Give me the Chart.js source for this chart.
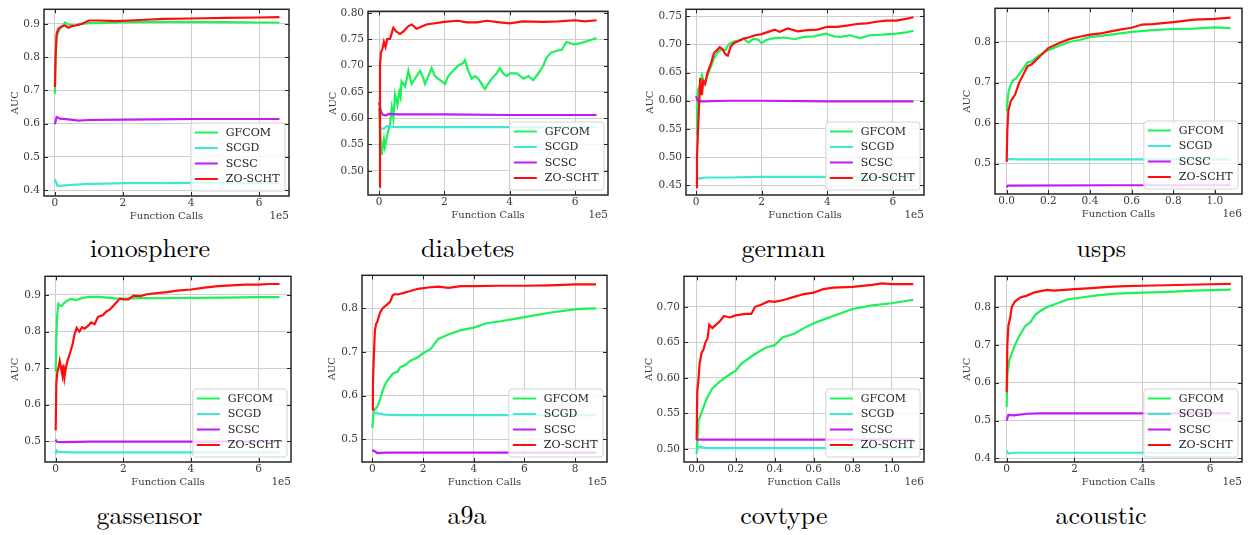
<!DOCTYPE html>
<html><head><meta charset="utf-8">
<script src="https://cdn.jsdelivr.net/npm/chart.js@4.4.1/dist/chart.umd.min.js"></script>
<style>
html,body{margin:0;padding:0;background:#fff;}
body{width:1251px;height:535px;position:relative;overflow:hidden;}
canvas{position:absolute;}
.cap{position:absolute;font-family:'Latin Modern Roman','Liberation Serif',serif;font-size:26px;line-height:30px;color:#000;white-space:nowrap;}
.cap .bl{display:inline-block;width:0;height:0;}
</style></head><body>
<script>
// ---------- series meta ----------
const seriesNames = ['GFCOM', 'SCGD', 'SCSC', 'ZO-SCHT'];
const seriesColors = ['#1ef25a', '#3ee8d2', '#c21cf5', '#ff0d0d'];

// ---------- data: [function calls (in axis units), AUC] ----------
// ionosphere (x in 1e5)
const ionosphereGFCOM = [[0,0.69],[0.02,0.80],[0.05,0.86],[0.1,0.875],[0.15,0.885],[0.25,0.897],[0.3,0.904],[0.4,0.898],[0.6,0.895],[0.8,0.9],[1.0,0.902],[1.5,0.903],[2,0.905],[3,0.906],[4,0.906],[5,0.905],[6,0.904],[6.6,0.904]];
const ionosphereSCGD = [[0,0.433],[0.05,0.42],[0.08,0.413],[0.2,0.414],[0.5,0.416],[1.0,0.419],[1.5,0.42],[2,0.421],[3,0.421],[4,0.422],[6.6,0.422]];
const ionosphereSCSC = [[0,0.598],[0.05,0.62],[0.15,0.615],[0.4,0.613],[0.7,0.609],[1.0,0.611],[2,0.612],[3,0.613],[4,0.614],[5,0.614],[6.6,0.614]];
const ionosphereZOSCHT = [[0,0.71],[0.02,0.80],[0.05,0.87],[0.1,0.885],[0.2,0.892],[0.3,0.895],[0.4,0.888],[0.5,0.893],[0.6,0.895],[0.8,0.9],[1.0,0.91],[1.3,0.91],[1.8,0.908],[2.2,0.91],[2.8,0.913],[3.2,0.915],[4,0.916],[5,0.918],[6,0.919],[6.6,0.92]];

// diabetes (x in 1e5)
const diabetesGFCOM = [[0,0.62],[0.08,0.53],[0.15,0.56],[0.18,0.545],[0.26,0.57],[0.34,0.59],[0.39,0.62],[0.44,0.6],[0.49,0.645],[0.56,0.625],[0.62,0.65],[0.66,0.64],[0.69,0.67],[0.8,0.66],[0.9,0.69],[1.0,0.665],[1.1,0.675],[1.26,0.69],[1.36,0.675],[1.41,0.665],[1.51,0.68],[1.61,0.695],[1.71,0.68],[1.81,0.675],[1.92,0.67],[2.02,0.665],[2.12,0.68],[2.27,0.69],[2.43,0.70],[2.58,0.705],[2.63,0.71],[2.73,0.69],[2.84,0.675],[2.94,0.68],[3.04,0.675],[3.14,0.665],[3.24,0.655],[3.34,0.665],[3.45,0.675],[3.6,0.685],[3.7,0.695],[3.8,0.685],[3.91,0.68],[4.01,0.685],[4.22,0.685],[4.42,0.675],[4.57,0.68],[4.72,0.672],[4.88,0.685],[5.03,0.70],[5.13,0.715],[5.28,0.725],[5.44,0.728],[5.59,0.73],[5.74,0.745],[5.95,0.74],[6.15,0.742],[6.46,0.748],[6.66,0.752]];
const diabetesSCGD = [[0,0.585],[0.05,0.58],[0.15,0.58],[0.25,0.585],[0.5,0.583],[1,0.583],[3,0.583],[6.66,0.583]];
const diabetesSCSC = [[0,0.63],[0.05,0.615],[0.1,0.607],[0.2,0.605],[0.3,0.608],[0.6,0.607],[1,0.607],[2,0.607],[4,0.606],[6.66,0.606]];
const diabetesZOSCHT = [[0,0.47],[0.03,0.70],[0.06,0.725],[0.1,0.73],[0.15,0.745],[0.2,0.735],[0.25,0.75],[0.34,0.751],[0.44,0.772],[0.52,0.765],[0.64,0.76],[0.75,0.765],[0.9,0.775],[1.0,0.778],[1.15,0.77],[1.45,0.778],[2.0,0.783],[2.4,0.785],[2.7,0.782],[3.0,0.782],[3.3,0.785],[3.7,0.782],[4.0,0.78],[4.4,0.784],[5.0,0.783],[5.5,0.784],[6.0,0.786],[6.3,0.784],[6.66,0.786]];

// german (x in 1e5)
const germanGFCOM = [[0,0.54],[0.03,0.58],[0.06,0.62],[0.1,0.625],[0.18,0.645],[0.25,0.63],[0.35,0.645],[0.45,0.66],[0.55,0.675],[0.65,0.685],[0.75,0.69],[0.9,0.69],[1.0,0.70],[1.15,0.705],[1.3,0.707],[1.45,0.71],[1.6,0.703],[1.75,0.71],[1.9,0.708],[2.0,0.702],[2.15,0.708],[2.4,0.711],[2.7,0.712],[3.0,0.709],[3.3,0.713],[3.6,0.714],[3.95,0.719],[4.2,0.714],[4.4,0.713],[4.7,0.716],[5.0,0.711],[5.3,0.716],[5.7,0.717],[6.1,0.719],[6.4,0.721],[6.63,0.724]];
const germanSCGD = [[0,0.466],[0.1,0.462],[0.3,0.464],[1,0.464],[2,0.465],[4,0.465],[6.63,0.465]];
const germanSCSC = [[0,0.608],[0.05,0.60],[0.2,0.599],[1,0.6],[2,0.6],[4,0.599],[6.63,0.599]];
const germanZOSCHT = [[0,0.447],[0.03,0.50],[0.06,0.545],[0.1,0.60],[0.13,0.64],[0.18,0.61],[0.22,0.635],[0.28,0.63],[0.35,0.65],[0.45,0.665],[0.55,0.685],[0.65,0.69],[0.72,0.695],[0.8,0.692],[0.9,0.682],[0.97,0.68],[1.05,0.695],[1.15,0.702],[1.3,0.706],[1.45,0.71],[1.6,0.712],[1.8,0.716],[2.0,0.718],[2.2,0.722],[2.4,0.726],[2.55,0.722],[2.8,0.728],[3.1,0.723],[3.4,0.725],[3.7,0.726],[4.0,0.731],[4.3,0.731],[4.6,0.733],[4.9,0.736],[5.2,0.737],[5.5,0.740],[5.8,0.742],[6.1,0.742],[6.4,0.745],[6.63,0.748]];

// usps (x in 1e6)
const uspsGFCOM = [[0,0.63],[0.005,0.66],[0.01,0.68],[0.02,0.695],[0.03,0.705],[0.045,0.71],[0.06,0.72],[0.08,0.735],[0.1,0.75],[0.12,0.752],[0.15,0.765],[0.2,0.78],[0.25,0.79],[0.3,0.80],[0.35,0.805],[0.4,0.812],[0.5,0.818],[0.6,0.825],[0.7,0.829],[0.8,0.832],[0.9,0.833],[1.0,0.836],[1.075,0.834]];
const uspsSCGD = [[0,0.505],[0.005,0.512],[0.05,0.511],[1.075,0.511]];
const uspsSCSC = [[0,0.442],[0.005,0.446],[0.5,0.447],[1.075,0.447]];
const uspsZOSCHT = [[0,0.505],[0.003,0.58],[0.008,0.63],[0.02,0.655],[0.04,0.67],[0.06,0.70],[0.08,0.72],[0.1,0.74],[0.12,0.745],[0.15,0.76],[0.2,0.785],[0.25,0.797],[0.3,0.807],[0.35,0.813],[0.4,0.818],[0.45,0.821],[0.5,0.826],[0.55,0.831],[0.6,0.835],[0.65,0.843],[0.7,0.844],[0.8,0.849],[0.9,0.855],[1.0,0.857],[1.075,0.86]];

// gassensor (x in 1e5)
const gassensorGFCOM = [[0,0.69],[0.02,0.78],[0.04,0.84],[0.08,0.876],[0.12,0.872],[0.18,0.87],[0.25,0.878],[0.35,0.885],[0.45,0.889],[0.6,0.886],[0.8,0.892],[1.0,0.895],[1.3,0.895],[1.6,0.892],[1.8,0.89],[2.1,0.89],[2.5,0.892],[3.0,0.891],[4.0,0.892],[5.0,0.893],[6.0,0.894],[6.62,0.894]];
const gassensorSCGD = [[0,0.465],[0.03,0.475],[0.08,0.471],[0.5,0.47],[6.62,0.47]];
const gassensorSCSC = [[0,0.505],[0.03,0.499],[0.2,0.498],[1,0.499],[6.62,0.499]];
const gassensorZOSCHT = [[0,0.53],[0.02,0.66],[0.05,0.69],[0.08,0.70],[0.12,0.72],[0.16,0.70],[0.2,0.68],[0.23,0.71],[0.26,0.675],[0.3,0.70],[0.35,0.72],[0.42,0.74],[0.5,0.765],[0.55,0.79],[0.62,0.81],[0.7,0.80],[0.78,0.812],[0.85,0.808],[0.95,0.815],[1.05,0.825],[1.15,0.82],[1.25,0.84],[1.4,0.845],[1.5,0.855],[1.6,0.86],[1.7,0.87],[1.8,0.88],[1.9,0.89],[2.0,0.888],[2.15,0.888],[2.3,0.898],[2.5,0.897],[2.7,0.902],[3.0,0.905],[3.3,0.908],[3.6,0.912],[4.0,0.915],[4.4,0.92],[4.8,0.924],[5.2,0.926],[5.6,0.928],[6.0,0.928],[6.3,0.93],[6.62,0.93]];

// a9a (x in 1e5)
const a9aGFCOM = [[0,0.525],[0.05,0.565],[0.2,0.575],[0.3,0.59],[0.4,0.61],[0.5,0.625],[0.6,0.635],[0.8,0.65],[1.0,0.655],[1.1,0.665],[1.3,0.67],[1.5,0.68],[1.8,0.688],[2.0,0.697],[2.3,0.707],[2.6,0.73],[3.0,0.74],[3.5,0.75],[4.0,0.756],[4.5,0.766],[5.0,0.77],[5.5,0.775],[6.0,0.78],[6.5,0.785],[7.0,0.79],[7.6,0.795],[8.2,0.799],[8.83,0.80]];
const a9aSCGD = [[0,0.565],[0.1,0.56],[0.5,0.556],[1,0.555],[8.83,0.555]];
const a9aSCSC = [[0,0.475],[0.2,0.468],[0.5,0.469],[8.83,0.469]];
const a9aZOSCHT = [[0,0.567],[0.02,0.62],[0.05,0.68],[0.1,0.75],[0.15,0.765],[0.2,0.77],[0.3,0.79],[0.4,0.80],[0.5,0.805],[0.6,0.81],[0.7,0.815],[0.8,0.83],[0.9,0.833],[1.0,0.832],[1.2,0.835],[1.5,0.84],[1.8,0.845],[2.2,0.848],[2.6,0.85],[3.0,0.847],[3.5,0.851],[4.0,0.851],[5.0,0.852],[6.0,0.852],[7.0,0.853],[8.0,0.855],[8.83,0.855]];

// covtype (x in 1e6)
const covtypeGFCOM = [[0,0.493],[0.01,0.54],[0.03,0.555],[0.05,0.57],[0.08,0.585],[0.12,0.595],[0.17,0.605],[0.2,0.61],[0.23,0.62],[0.28,0.63],[0.32,0.637],[0.36,0.643],[0.4,0.646],[0.44,0.657],[0.5,0.662],[0.55,0.67],[0.6,0.677],[0.65,0.682],[0.7,0.687],[0.75,0.692],[0.8,0.697],[0.9,0.702],[1.0,0.705],[1.111,0.71]];
const covtypeSCGD = [[0,0.497],[0.01,0.503],[0.05,0.501],[1.111,0.501]];
const covtypeSCSC = [[0,0.513],[1.111,0.513]];
const covtypeZOSCHT = [[0,0.512],[0.003,0.58],[0.01,0.60],[0.015,0.62],[0.025,0.635],[0.035,0.64],[0.045,0.65],[0.055,0.655],[0.065,0.675],[0.08,0.67],[0.1,0.675],[0.12,0.68],[0.14,0.687],[0.17,0.685],[0.2,0.688],[0.25,0.69],[0.28,0.69],[0.3,0.70],[0.33,0.703],[0.37,0.708],[0.4,0.707],[0.45,0.71],[0.5,0.714],[0.55,0.718],[0.6,0.72],[0.65,0.725],[0.7,0.727],[0.8,0.728],[0.9,0.731],[0.95,0.733],[1.0,0.732],[1.111,0.732]];

// acoustic (x in 1e5)
const acousticGFCOM = [[0,0.535],[0.02,0.62],[0.08,0.66],[0.2,0.69],[0.35,0.72],[0.55,0.75],[0.7,0.76],[0.85,0.78],[1.0,0.79],[1.2,0.80],[1.5,0.81],[1.8,0.82],[2.2,0.825],[2.6,0.83],[3.2,0.835],[4.0,0.838],[4.8,0.84],[5.5,0.843],[6.61,0.846]];
const acousticSCGD = [[0,0.42],[0.05,0.413],[0.2,0.415],[6.61,0.415]];
const acousticSCSC = [[0,0.50],[0.05,0.515],[0.2,0.514],[0.6,0.518],[1.0,0.519],[6.61,0.519]];
const acousticZOSCHT = [[0,0.575],[0.02,0.70],[0.05,0.75],[0.1,0.77],[0.15,0.80],[0.25,0.815],[0.4,0.825],[0.6,0.83],[0.8,0.838],[1.0,0.842],[1.2,0.845],[1.4,0.843],[1.7,0.845],[2.0,0.847],[2.5,0.85],[3.0,0.853],[3.5,0.855],[4.0,0.856],[5.0,0.858],[6.0,0.86],[6.61,0.861]];

// ---------- tick values / labels ----------
const xTicks1e5 = [0, 2, 4, 6];
const xTickLabels1e5 = ['0', '2', '4', '6'];
const xTicksA9a = [0, 2, 4, 6, 8];
const xTickLabelsA9a = ['0', '2', '4', '6', '8'];
const xTicks1e6 = [0, 0.2, 0.4, 0.6, 0.8, 1.0];
const xTickLabels1e6 = ['0.0', '0.2', '0.4', '0.6', '0.8', '1.0'];
const yTicksTenth49 = [0.4, 0.5, 0.6, 0.7, 0.8, 0.9];
const yTickLabelsTenth49 = ['0.4', '0.5', '0.6', '0.7', '0.8', '0.9'];
const yTicksDiabetes = [0.50, 0.55, 0.60, 0.65, 0.70, 0.75, 0.80];
const yTickLabelsDiabetes = ['0.50', '0.55', '0.60', '0.65', '0.70', '0.75', '0.80'];
const yTicksGerman = [0.45, 0.50, 0.55, 0.60, 0.65, 0.70, 0.75];
const yTickLabelsGerman = ['0.45', '0.50', '0.55', '0.60', '0.65', '0.70', '0.75'];
const yTicksUsps = [0.5, 0.6, 0.7, 0.8];
const yTickLabelsUsps = ['0.5', '0.6', '0.7', '0.8'];
const yTicksGas = [0.5, 0.6, 0.7, 0.8, 0.9];
const yTickLabelsGas = ['0.5', '0.6', '0.7', '0.8', '0.9'];
const yTicksCov = [0.50, 0.55, 0.60, 0.65, 0.70];
const yTickLabelsCov = ['0.50', '0.55', '0.60', '0.65', '0.70'];
const yTicksAcoustic = [0.4, 0.5, 0.6, 0.7, 0.8];
const yTickLabelsAcoustic = ['0.4', '0.5', '0.6', '0.7', '0.8'];

const xAxisTitle = 'Function Calls';
const yAxisTitle = 'AUC';

// ---------- panels (layout: plot rect in page px, axis ranges) ----------
const panels = [
  {name:'ionosphere', series:[ionosphereGFCOM, ionosphereSCGD, ionosphereSCSC, ionosphereZOSCHT], rect:[44,3,289,196], x:[-0.32,6.88], y:[0.3826,0.9436], xt:xTicks1e5, xl:xTickLabels1e5, yt:yTicksTenth49, yl:yTickLabelsTenth49, mult:'1e5', auc:29, cap:[150,257]},
  {name:'diabetes', series:[diabetesGFCOM, diabetesSCGD, diabetesSCSC, diabetesZOSCHT], rect:[368,5,608,195], x:[-0.337,7.01], y:[0.454,0.803], xt:xTicks1e5, xl:xTickLabels1e5, yt:yTicksDiabetes, yl:yTickLabelsDiabetes, mult:'1e5', auc:35, cap:[467.5,257]},
  {name:'german', series:[germanGFCOM, germanSCGD, germanSCSC, germanZOSCHT], rect:[686,3,924,195], x:[-0.305,6.95], y:[0.433,0.762], xt:xTicks1e5, xl:xTickLabels1e5, yt:yTicksGerman, yl:yTickLabelsGerman, mult:'1e5', auc:36, cap:[783.5,257]},
  {name:'usps', series:[uspsGFCOM, uspsSCGD, uspsSCSC, uspsZOSCHT], rect:[995,2,1242,194], x:[-0.056,1.13], y:[0.4255,0.883], xt:xTicks1e6, xl:xTickLabels1e6, yt:yTicksUsps, yl:yTickLabelsUsps, mult:'1e6', auc:28, cap:[1101,257]},
  {name:'gassensor', series:[gassensorGFCOM, gassensorSCGD, gassensorSCSC, gassensorZOSCHT], rect:[45,270,291,462], x:[-0.316,6.96], y:[0.4436,0.951], xt:xTicks1e5, xl:xTickLabels1e5, yt:yTicksGas, yl:yTickLabelsGas, mult:'1e5', auc:30, cap:[149.5,524]},
  {name:'a9a', series:[a9aGFCOM, a9aSCGD, a9aSCSC, a9aZOSCHT], rect:[362,269,607,462], x:[-0.41,9.26], y:[0.4474,0.876], xt:xTicksA9a, xl:xTickLabelsA9a, yt:yTicksUsps, yl:yTickLabelsUsps, mult:'1e5', auc:30, cap:[467,524]},
  {name:'covtype', series:[covtypeGFCOM, covtypeSCGD, covtypeSCSC, covtypeZOSCHT], rect:[684,270,924,462], x:[-0.065,1.166], y:[0.4814,0.743], xt:xTicks1e6, xl:xTickLabels1e6, yt:yTicksCov, yl:yTickLabelsCov, mult:'1e6', auc:35, cap:[783.7,524]},
  {name:'acoustic', series:[acousticGFCOM, acousticSCGD, acousticSCSC, acousticZOSCHT], rect:[995,270,1242,462], x:[-0.344,6.94], y:[0.3906,0.881], xt:xTicks1e5, xl:xTickLabels1e5, yt:yTicksAcoustic, yl:yTickLabelsAcoustic, mult:'1e5', auc:28, cap:[1101,524]}
];

const FONT = "'DejaVu Serif'";
const TXT = '#3a3a3a';
const YW = 50, XH = 32, PT = 4, PR = 8;

const framePlugin = {
  id: 'frame',
  afterDatasetsDraw(chart) {
    const a = chart.chartArea, ctx = chart.ctx;
    ctx.save();
    ctx.font = '11px ' + FONT;
    const tw = Math.max(...seriesNames.map(n => ctx.measureText(n).width));
    const pad = 4, lineLen = 23, gap = 8, rowH = 15.5;
    const w = pad + lineLen + gap + tw + 5.5;
    const h = 68;
    const x0 = a.right - 4 - w, y0 = a.bottom - 5 - h;
    ctx.beginPath();
    ctx.roundRect(x0, y0, w, h, 3);
    ctx.fillStyle = 'rgba(255,255,255,0.8)';
    ctx.fill();
    ctx.strokeStyle = '#d4d4d4';
    ctx.lineWidth = 1;
    ctx.stroke();
    seriesNames.forEach((n, i) => {
      const cy = y0 + 9.5 + i * rowH;
      ctx.beginPath();
      ctx.moveTo(x0 + pad, cy);
      ctx.lineTo(x0 + pad + lineLen, cy);
      ctx.strokeStyle = seriesColors[i];
      ctx.lineWidth = 2;
      ctx.stroke();
      ctx.fillStyle = '#222';
      ctx.textAlign = 'left';
      ctx.textBaseline = 'middle';
      ctx.fillText(n, x0 + pad + lineLen + gap, cy + 0.5);
    });
    ctx.restore();
  },
  afterDraw(chart, args, opts) {
    const a = chart.chartArea, ctx = chart.ctx;
    const xs = chart.scales.x, ys = chart.scales.y;
    ctx.save();
    ctx.strokeStyle = '#262626';
    ctx.lineWidth = 1;
    xs.ticks.forEach(t => {
      const px = Math.round(xs.getPixelForValue(t.value)) + 0.5;
      ctx.beginPath();
      ctx.moveTo(px, a.bottom); ctx.lineTo(px, a.bottom - 4);
      ctx.moveTo(px, a.top); ctx.lineTo(px, a.top + 4);
      ctx.stroke();
    });
    ys.ticks.forEach(t => {
      const py = Math.round(ys.getPixelForValue(t.value)) + 0.5;
      ctx.beginPath();
      ctx.moveTo(a.left, py); ctx.lineTo(a.left + 4, py);
      ctx.moveTo(a.right, py); ctx.lineTo(a.right - 4, py);
      ctx.stroke();
    });
    ctx.lineWidth = 1.5;
    ctx.strokeRect(a.left, a.top, a.right - a.left, a.bottom - a.top);
    ctx.fillStyle = TXT;
    ctx.font = '10.5px ' + FONT;
    ctx.textAlign = 'right';
    ctx.textBaseline = 'middle';
    ctx.fillText(opts.mult, a.right, a.bottom + 20.5);
    ctx.restore();
  }
};

panels.forEach(p => {
  const [l, t, r, b] = p.rect;
  const cv = document.createElement('canvas');
  const W = (r - l) + YW + PR, H = (b - t) + PT + XH;
  cv.width = W; cv.height = H;
  cv.style.left = (l - YW) + 'px';
  cv.style.top = (t - PT) + 'px';
  cv.style.width = W + 'px'; cv.style.height = H + 'px';
  document.body.appendChild(cv);

  // caption: real HTML text, aligned on its baseline
  const cap = document.createElement('div');
  cap.className = 'cap';
  cap.appendChild(document.createTextNode(p.name));
  const bl = document.createElement('span');
  bl.className = 'bl';
  cap.appendChild(bl);
  document.body.appendChild(cap);
  const placeCap = () => {
    const off = bl.offsetTop;
    cap.style.left = (p.cap[0] - cap.offsetWidth / 2) + 'px';
    cap.style.top = (p.cap[1] - off) + 'px';
  };
  placeCap();
  if (document.fonts && document.fonts.ready) document.fonts.ready.then(placeCap);

  new Chart(cv, {
    type: 'line',
    data: {
      datasets: p.series.map((d, i) => ({
        label: seriesNames[i],
        data: d,
        borderColor: seriesColors[i],
        backgroundColor: seriesColors[i],
        borderWidth: 2.2,
        pointRadius: 0,
        tension: 0,
        fill: false,
        order: 3 - i
      }))
    },
    options: {
      responsive: false,
      animation: false,
      devicePixelRatio: 1,
      layout: { padding: { top: PT, right: PR, left: 0, bottom: 0 } },
      plugins: { legend: { display: false }, tooltip: { enabled: false }, frame: { mult: p.mult } },
      scales: {
        x: {
          type: 'linear', min: p.x[0], max: p.x[1],
          afterBuildTicks: s => { s.ticks = p.xt.map(v => ({ value: v })); },
          afterFit: s => { s.height = XH; },
          ticks: { autoSkip: false, maxRotation: 0, padding: 1, color: TXT, font: { family: FONT, size: 10.5 }, callback: (v, i) => p.xl[i] },
          grid: { color: '#cfcfcf', lineWidth: 1, drawTicks: false },
          border: { display: false },
          title: { display: true, text: xAxisTitle, color: TXT, font: { family: FONT, size: 10 }, padding: { top: 0, bottom: 5.5 } }
        },
        y: {
          type: 'linear', min: p.y[0], max: p.y[1],
          afterBuildTicks: s => { s.ticks = p.yt.map(v => ({ value: v })); },
          afterFit: s => { s.width = YW; },
          ticks: { autoSkip: false, padding: 4, color: TXT, font: { family: FONT, size: 10.5 }, callback: (v, i) => p.yl[i] },
          grid: { color: '#cfcfcf', lineWidth: 1, drawTicks: false },
          border: { display: false },
          title: { display: true, text: yAxisTitle, color: TXT, font: { family: FONT, size: 10 }, padding: { top: YW - p.auc - 6, bottom: 0 } }
        }
      }
    },
    plugins: [framePlugin]
  });
});
</script>
</body></html>
